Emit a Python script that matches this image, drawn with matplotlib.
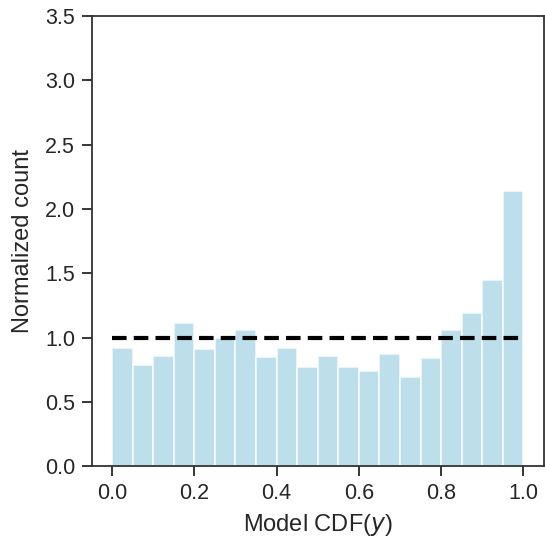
import numpy as np
import matplotlib
matplotlib.use("Agg")
import matplotlib.pyplot as plt
import seaborn as sns

# normalized histogram of model CDF values (20 bins on [0, 1])
bin_edges = np.linspace(0.0, 1.0, 21)
counts = [0.92, 0.79, 0.86, 1.11, 0.91, 1.00, 1.06, 0.85, 0.92, 0.77,
          0.86, 0.77, 0.74, 0.87, 0.69, 0.84, 1.06, 1.19, 1.45, 2.14]

sns.set_theme(style="ticks")
plt.rcParams["font.family"] = ["Liberation Sans", "DejaVu Sans"]

fig = plt.figure(figsize=(5.45, 5.37), dpi=100)
ax = fig.add_axes([0.168, 0.132, 0.830, 0.838])

ax.bar(bin_edges[:-1], counts, width=np.diff(bin_edges), align="edge",
       color="lightblue", alpha=0.8, edgecolor="white", linewidth=1.2)
ax.plot([0, 1], [1, 1], color="black", linestyle="--", linewidth=3,
        dashes=(3.5, 1.72))

ax.set_xlim(-0.05, 1.05)
ax.set_ylim(0, 3.5)
ax.set_xticks([0.0, 0.2, 0.4, 0.6, 0.8, 1.0])
ax.set_yticks(np.arange(0, 3.51, 0.5))
ax.tick_params(labelsize=15.5, length=7, width=1.3, pad=5)
for s in ax.spines.values():
    s.set_linewidth(1.3)
    s.set_color("#333333")
ax.set_xlabel("Model CDF($y$)", fontsize=17, labelpad=6)
ax.set_ylabel("Normalized count", fontsize=17, labelpad=8)

fig.savefig("out.png", dpi=100)
